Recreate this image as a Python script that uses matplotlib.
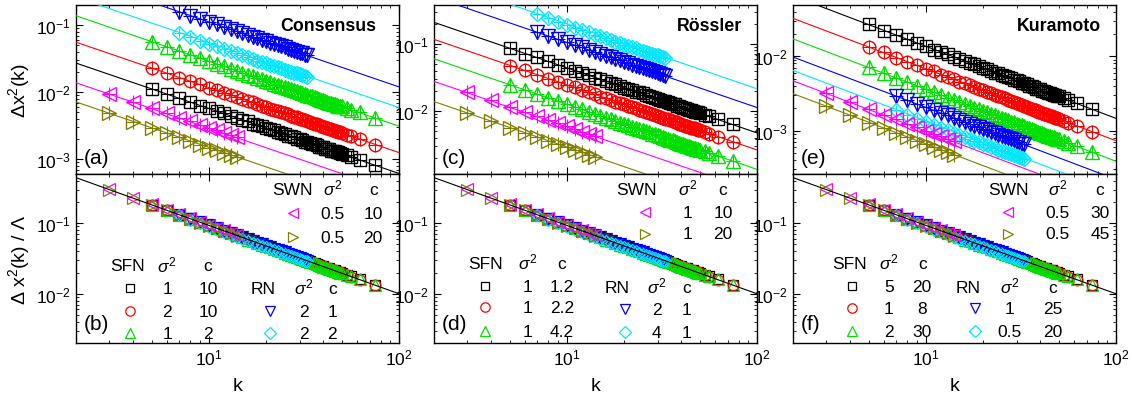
import numpy as np
import matplotlib
matplotlib.use('Agg')
import matplotlib.pyplot as plt
from matplotlib.ticker import LogLocator, NullFormatter

plt.rcParams['font.family'] = ['Liberation Sans', 'DejaVu Sans']
plt.rcParams['mathtext.fontset'] = 'custom'
plt.rcParams['mathtext.rm'] = 'Liberation Sans'
plt.rcParams['mathtext.it'] = 'Liberation Sans:italic'
plt.rcParams['mathtext.sf'] = 'Liberation Sans'

# ---- data ----
# degrees k of each network family
k_sfn = list(range(5, 51)) + [53, 56, 62, 75]
k_rn = list(range(7, 34))
k_swn = list(range(3, 15))

# collapsed values dx^2(k)/Lambda (bottom row)
sfn1 = [0.184, 0.152, 0.133, 0.117, 0.1025, 0.0940, 0.0843, 0.0788, 0.0730, 0.0668,
        0.0633, 0.0596, 0.0552, 0.0531, 0.0506, 0.0472, 0.0458, 0.0438, 0.0412, 0.0403,
        0.0387, 0.0366, 0.0359, 0.0347, 0.0329, 0.0324, 0.0314, 0.0299, 0.0296, 0.0288,
        0.0275, 0.0272, 0.0265, 0.0252, 0.0251, 0.0246, 0.0235, 0.0234, 0.0229, 0.0219,
        0.0219, 0.0214, 0.0206, 0.0206, 0.0202, 0.0198, 0.0187, 0.0177, 0.0161, 0.0134]
sfn2 = [0.181, 0.154, 0.131, 0.115, 0.1040, 0.0925, 0.0856, 0.0776, 0.0726, 0.0677,
        0.0624, 0.0594, 0.0560, 0.0523, 0.0502, 0.0479, 0.0451, 0.0436, 0.0418, 0.0397,
        0.0385, 0.0371, 0.0354, 0.0345, 0.0334, 0.0319, 0.0313, 0.0303, 0.0291, 0.0286,
        0.0279, 0.0268, 0.0263, 0.0257, 0.0247, 0.0244, 0.0238, 0.0230, 0.0227, 0.0222,
        0.0215, 0.0213, 0.0209, 0.0203, 0.0201, 0.0195, 0.0184, 0.0174, 0.0157, 0.0131]
sfn3 = [0.183, 0.153, 0.132, 0.116, 0.1030, 0.0930, 0.0848, 0.0784, 0.0720, 0.0675,
        0.0630, 0.0588, 0.0558, 0.0528, 0.0498, 0.0477, 0.0455, 0.0432, 0.0417, 0.0400,
        0.0381, 0.0370, 0.0357, 0.0341, 0.0333, 0.0322, 0.0309, 0.0303, 0.0294, 0.0284,
        0.0278, 0.0270, 0.0261, 0.0256, 0.0248, 0.0242, 0.0238, 0.0231, 0.0225, 0.0222,
        0.0216, 0.0211, 0.0209, 0.0203, 0.0199, 0.0197, 0.0186, 0.0176, 0.0160, 0.0133]
rn1 = [0.133, 0.116, 0.1045, 0.0938, 0.0858, 0.0786, 0.0731, 0.0676, 0.0636, 0.0594,
       0.0563, 0.0530, 0.0506, 0.0479, 0.0459, 0.0437, 0.0421, 0.0401, 0.0388, 0.0371,
       0.0360, 0.0345, 0.0336, 0.0323, 0.0315, 0.0304, 0.0296]
rn2 = [0.129, 0.112, 0.0995, 0.0895, 0.0815, 0.0748, 0.0692, 0.0643, 0.0601, 0.0564,
       0.0532, 0.0503, 0.0478, 0.0455, 0.0434, 0.0416, 0.0399, 0.0383, 0.0369, 0.0356,
       0.0344, 0.0333, 0.0323, 0.0313, 0.0304, 0.0296, 0.0288]
swn1 = [0.305, 0.231, 0.186, 0.156, 0.1345, 0.118, 0.1052, 0.0950, 0.0866, 0.0795, 0.0736, 0.0685]
swn2 = [0.300, 0.226, 0.181, 0.152, 0.1310, 0.1150, 0.1025, 0.0925, 0.0843, 0.0776, 0.0718, 0.0668]

# Lambda of each series (black, red, green, blue, cyan, magenta, olive) per model
lam_consensus = [0.0612, 0.1255, 0.311, 1.20, 0.590, 0.0311, 0.0161]
lam_rossler = [0.472, 0.263, 0.135, 1.127, 2.146, 0.0622, 0.0311]
lam_kuramoto = [0.146, 0.0730, 0.0386, 0.0220, 0.0145, 0.01052, 0.00708]

# power-law fit of the collapsed curve
fit_amp = 0.87
fit_exp = 0.97

# key tables
sfn_sigma = [['1', '2', '1'], ['1', '1', '1'], ['5', '1', '2']]
sfn_c = [['10', '10', '2'], ['1.2', '2.2', '4.2'], ['20', '8', '30']]
rn_sigma = [['2', '2'], ['2', '4'], ['1', '0.5']]
rn_c = [['1', '2'], ['1', '1'], ['25', '20']]
swn_sigma = [['0.5', '0.5'], ['1', '1'], ['0.5', '0.5']]
swn_c = [['10', '20'], ['10', '20'], ['30', '45']]

models = ['Consensus', 'R\u00f6ssler', 'Kuramoto']
top_tags = ['(a)', '(c)', '(e)']
bot_tags = ['(b)', '(d)', '(f)']

# ---- styles ----
k_lists = [k_sfn, k_sfn, k_sfn, k_rn, k_rn, k_swn, k_swn]
collapsed = [sfn1, sfn2, sfn3, rn1, rn2, swn1, swn2]
lams = [lam_consensus, lam_rossler, lam_kuramoto]
colors = ['black', '#ff0000', '#00e000', '#0000ff', '#00e6ff', '#ff00ff', '#808000']
markers = ['s', 'o', '^', 'v', 'D', '<', '>']
msize = [8.0, 9.0, 9.5, 9.5, 7.5, 9.5, 9.5]
top_ylims = [(6e-4, 0.2), (1.15e-3, 0.38), (2.6e-4, 0.049)]
bot_ylim = (2e-3, 0.5)
FS = 12.5

fig = plt.figure(figsize=(11.33, 4.02), dpi=100)
lefts = [76 / 1133, 434 / 1133, 793 / 1133]
width = 323 / 1133
height = 169 / 402

k_fit = np.logspace(np.log10(2), 2, 60)


def style_axis(ax):
    ax.set_xscale('log')
    ax.set_yscale('log')
    ax.set_xlim(2, 100)
    ax.tick_params(which='both', direction='in', top=True, right=True, labelsize=FS)
    ax.tick_params(which='major', length=5, width=0.8)
    ax.tick_params(which='minor', length=2.5, width=0.6)
    ax.yaxis.set_major_locator(LogLocator(base=10, numticks=10))
    ax.yaxis.set_minor_locator(LogLocator(base=10, subs=np.arange(2, 10), numticks=20))
    ax.yaxis.set_minor_formatter(NullFormatter())
    ax.xaxis.set_minor_formatter(NullFormatter())
    for s in ax.spines.values():
        s.set_linewidth(1.0)


def draw_key(ax, name, name_x, marker_x, col_x, y_head, ys, idx, col1, col2):
    ax.text(name_x, y_head, name, transform=ax.transAxes, ha='center', va='center', fontsize=FS)
    ax.text(col_x[0], y_head + 0.01, r'$\sigma^2$', transform=ax.transAxes, ha='center', va='center', fontsize=FS)
    ax.text(col_x[1], y_head, 'c', transform=ax.transAxes, ha='center', va='center', fontsize=FS)
    for y, i, a, b in zip(ys, idx, col1, col2):
        ax.plot([marker_x], [y], marker=markers[i], ls='none', mfc='none', mec=colors[i],
                ms=msize[i] * 0.75, mew=0.9, transform=ax.transAxes, clip_on=False)
        ax.text(col_x[0], y, a, transform=ax.transAxes, ha='center', va='center', fontsize=FS)
        ax.text(col_x[1], y, b, transform=ax.transAxes, ha='center', va='center', fontsize=FS)


# key layouts (axes fractions) for the three bottom panels
key_layout = [
    dict(swn=(0.669, 0.672, (0.795, 0.920), 0.911, (0.769, 0.627)),
         sfn=(0.158, 0.167, (0.282, 0.409), 0.456, (0.325, 0.189, 0.059)),
         rn=(0.579, 0.601, (0.705, 0.793), 0.325, (0.189, 0.059))),
    dict(swn=(0.628, 0.653, (0.786, 0.895), 0.911, (0.775, 0.645)),
         sfn=(0.158, 0.158, (0.291, 0.396), 0.473, (0.337, 0.213, 0.071)),
         rn=(0.567, 0.591, (0.690, 0.783), 0.331, (0.201, 0.065))),
    dict(swn=(0.666, 0.666, (0.820, 0.950), 0.911, (0.775, 0.645)),
         sfn=(0.176, 0.183, (0.297, 0.400), 0.473, (0.337, 0.207, 0.071)),
         rn=(0.542, 0.563, (0.670, 0.805), 0.331, (0.207, 0.071))),
]

for p in range(3):
    ax_top = fig.add_axes([lefts[p], 1 - 175 / 402, width, height])
    ax_bot = fig.add_axes([lefts[p], 1 - 344 / 402, width, height])
    style_axis(ax_top)
    style_axis(ax_bot)
    ax_top.tick_params(labelbottom=False)

    for i in range(7):
        k = np.array(k_lists[i])
        coll = np.array(collapsed[i])
        lam = lams[p][i]
        top = lam * coll
        # top row: data with error crosses and fitted power law
        ax_top.plot(k, top, ls='none', marker=markers[i], mfc='none', mec=colors[i],
                    ms=msize[i], mew=1.0, zorder=2)
        ax_top.plot(k, top, ls='none', marker='+', color=colors[i], ms=msize[i] * 1.05,
                    mew=0.8, zorder=2)
        ax_top.plot(k_fit, lam * fit_amp * k_fit ** (-fit_exp), color=colors[i], lw=0.8, zorder=3)
        # bottom row: collapsed data
        ax_bot.plot(k, coll, ls='none', marker=markers[i], mfc='none', mec=colors[i],
                    ms=msize[i] * 0.85, mew=0.9, zorder=2)
    ax_bot.plot(k_fit, fit_amp * k_fit ** (-fit_exp), color='black', lw=0.8, zorder=3)

    ax_top.set_ylim(*top_ylims[p])
    ax_bot.set_ylim(*bot_ylim)

    xr = 0.929 if p == 0 else 0.954
    ax_top.text(xr, 0.876, models[p], transform=ax_top.transAxes, ha='right', va='center',
                fontsize=12.8, fontweight='bold')
    ax_top.text(0.025, 0.10, top_tags[p], transform=ax_top.transAxes, ha='left', va='center',
                fontsize=15)
    ax_bot.text(0.025, 0.118, bot_tags[p], transform=ax_bot.transAxes, ha='left', va='center',
                fontsize=15)

    lay = key_layout[p]
    nx, mx, cx, yh, ys = lay['swn']
    draw_key(ax_bot, 'SWN', nx, mx, cx, yh, ys, [5, 6], swn_sigma[p], swn_c[p])
    nx, mx, cx, yh, ys = lay['sfn']
    draw_key(ax_bot, 'SFN', nx, mx, cx, yh, ys, [0, 1, 2], sfn_sigma[p], sfn_c[p])
    nx, mx, cx, yh, ys = lay['rn']
    draw_key(ax_bot, 'RN', nx, mx, cx, yh, ys, [3, 4], rn_sigma[p], rn_c[p])

    ax_bot.set_xlabel('k', fontsize=14)
    ax_bot.xaxis.set_label_coords(0.5, -0.2)

    if p == 0:
        ax_top.set_ylabel(r'$\Delta$x$^2$(k)', fontsize=14)
        ax_top.yaxis.set_label_coords(-0.135, 0.5)
        ax_bot.set_ylabel(r'$\Delta$ x$^2$(k) / $\Lambda$', fontsize=14)
        ax_bot.yaxis.set_label_coords(-0.135, 0.5)

fig.savefig('out.png', dpi=100)
